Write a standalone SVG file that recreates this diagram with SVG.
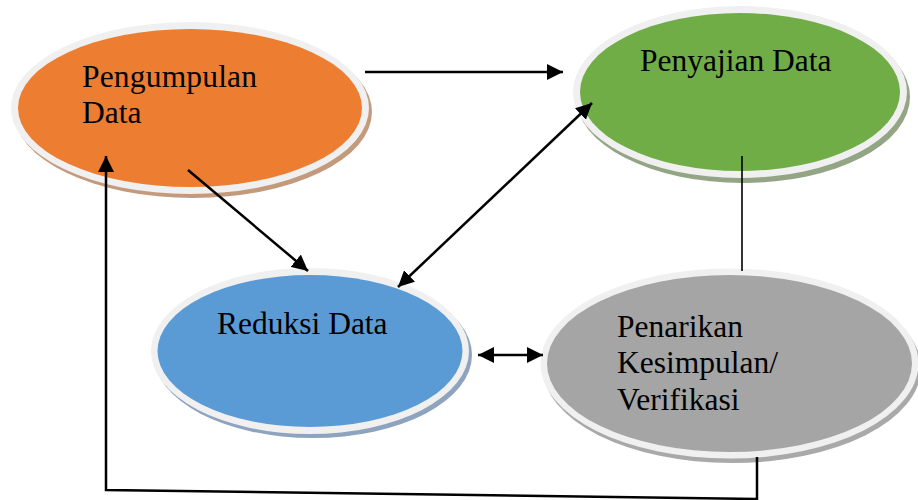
<svg xmlns="http://www.w3.org/2000/svg" width="918" height="500" viewBox="0 0 918 500">
<style>
.ring{fill:#f0f0f0}
.lbl{font-family:"Liberation Serif","Times New Roman",serif;font-size:31.5px;fill:#000}
.con{fill:none;stroke:#000;stroke-width:2.5}
.thin{fill:none;stroke:#000;stroke-width:1.6}
</style>
<defs>
<marker id="ah" markerUnits="userSpaceOnUse" markerWidth="17" markerHeight="16" refX="16" refY="8" orient="auto-start-reverse" viewBox="0 0 17 16">
<path d="M0,0 L16,8 L0,16 z" fill="#000"/>
</marker>
</defs>
<rect width="918" height="500" fill="#fff"/>
<g id="pengumpulan">
<ellipse cx="193" cy="112" rx="179" ry="86" fill="#c49a7c"/>
<ellipse class="ring" cx="190" cy="108" rx="179" ry="86"/>
<ellipse cx="190" cy="108" rx="172" ry="79" fill="#ed7d31"/>
<text class="lbl" x="82" y="87" textLength="175" lengthAdjust="spacing">Pengumpulan</text>
<text class="lbl" x="82" y="123">Data</text>
</g>
<g id="penyajian">
<ellipse cx="743" cy="97" rx="167" ry="86" fill="#93a585"/>
<ellipse class="ring" cx="740" cy="92" rx="167" ry="86"/>
<ellipse cx="740" cy="92" rx="160" ry="79" fill="#70ad47"/>
<text class="lbl" x="640" y="71">Penyajian Data</text>
</g>
<g id="reduksi">
<ellipse cx="313" cy="355" rx="159" ry="83" fill="#8ea3bd"/>
<ellipse class="ring" cx="310" cy="351" rx="159" ry="83"/>
<ellipse cx="310" cy="351" rx="152.5" ry="76" fill="#5b9bd5"/>
<text class="lbl" x="217" y="334">Reduksi Data</text>
</g>
<g id="penarikan">
<ellipse cx="732" cy="368" rx="189" ry="95" fill="#a9a9a9"/>
<ellipse class="ring" cx="729.5" cy="363.5" rx="189" ry="95"/>
<ellipse cx="729.5" cy="363.5" rx="182.5" ry="88.5" fill="#a5a5a5"/>
<text class="lbl" x="617" y="337">Penarikan</text>
<text class="lbl" x="617" y="373">Kesimpulan/</text>
<text class="lbl" x="617" y="410">Verifikasi</text>
</g>
<g id="connectors">
<line class="con" x1="365" y1="72" x2="563" y2="72" marker-end="url(#ah)"/>
<line class="con" x1="188" y1="170" x2="308" y2="271" marker-end="url(#ah)"/>
<line class="con" x1="398" y1="287" x2="592" y2="103" marker-start="url(#ah)" marker-end="url(#ah)"/>
<line class="con" x1="478" y1="355" x2="543" y2="355" marker-start="url(#ah)" marker-end="url(#ah)"/>
<line class="thin" x1="742" y1="156" x2="742" y2="271"/>
<polyline class="con" points="757,457 757,499 106,490 106,156" marker-end="url(#ah)"/>
</g>
</svg>
